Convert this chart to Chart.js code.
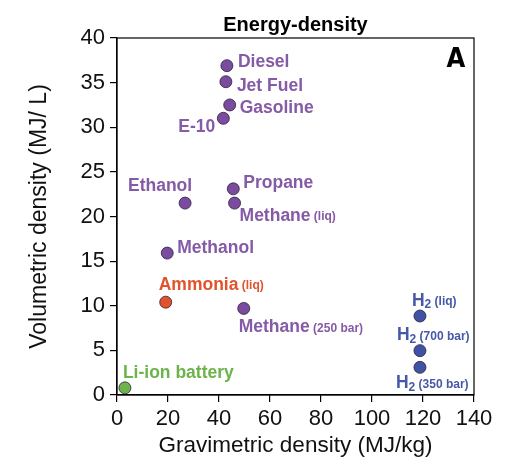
<!DOCTYPE html>
<html>
<head>
<meta charset="utf-8">
<script src="https://cdn.jsdelivr.net/npm/chart.js@4.4.1/dist/chart.umd.min.js"></script>
<style>
  html, body { margin: 0; padding: 0; background: #fff; }
  #wrap { width: 510px; height: 472px; }
</style>
</head>
<body>
<div id="wrap"><canvas id="chart" width="510" height="472"></canvas></div>
<script>
// fuels
const names = [
  "Diesel", "Jet Fuel", "Gasoline", "E-10", "Ethanol", "Propane",
  "Methane (liq)", "Methanol", "Ammonia (liq)", "Methane (250 bar)",
  "H2 (liq)", "H2 (700 bar)", "H2 (350 bar)", "Li-ion battery"
];
const gravimetric = [43.1, 42.7, 44.2, 41.7, 26.7, 45.6, 46.1, 19.7, 19.1, 49.7, 118.8, 118.8, 118.8, 3.1];
const volumetric = [36.9, 35.1, 32.5, 31.0, 21.5, 23.1, 21.5, 15.9, 10.4, 9.7, 8.85, 4.97, 3.1, 0.8];
const groups = [
  "carbon", "carbon", "carbon", "carbon", "carbon", "carbon",
  "carbon", "carbon", "ammonia", "carbon",
  "hydrogen", "hydrogen", "hydrogen", "battery"
];
const xTicks = [0, 20, 40, 60, 80, 100, 120, 140];
const yTicks = [0, 5, 10, 15, 20, 25, 30, 35, 40];

const fillColors = { carbon: "#7a4b9e", ammonia: "#e2532b", hydrogen: "#3f52a4", battery: "#6cb34b" };
const textColors = { carbon: "#855aa6", ammonia: "#e2532b", hydrogen: "#4658a6", battery: "#6cb34b" };

// where each label sits relative to its dot: [dx, dy, align]
const labelPlacement = [
  [11, -3, "left"], [11, 4, "left"], [10, 3, "left"], [-8, 9, "right"],
  [-25, -17, "center"], [10, -6, "left"], [5, 13, "left"], [10, -5, "left"],
  [-7, -17, "left"], [-5, 19, "left"], [-8, -15, "left"], [-23, -15, "left"],
  [-24, 16, "left"], [-2, -15, "left"]
];

const FONT = "'Liberation Sans', Arial, Helvetica, sans-serif";

function labelParts(text) {
  const parts = [];
  let main = text, paren = "";
  const m = text.match(/^(.*?)(\s\(.*\))$/);
  if (m) { main = m[1]; paren = m[2]; }
  if (main === "H2") {
    parts.push({ t: "H", size: 17.5, dy: 0 });
    parts.push({ t: "2", size: 12, dy: 4 });
  } else {
    parts.push({ t: main, size: 17.5, dy: 0 });
  }
  if (paren) parts.push({ t: paren, size: 12, dy: 1 });
  return parts;
}

function drawLabel(ctx, text, x, y, align, color) {
  const parts = labelParts(text);
  let total = 0;
  parts.forEach((p) => {
    ctx.font = "bold " + p.size + "px " + FONT;
    p.w = ctx.measureText(p.t).width;
    total += p.w;
  });
  let cx = x;
  if (align === "right") cx = x - total;
  if (align === "center") cx = x - total / 2;
  ctx.fillStyle = color;
  ctx.textAlign = "left";
  ctx.textBaseline = "middle";
  parts.forEach((p) => {
    ctx.font = "bold " + p.size + "px " + FONT;
    ctx.fillText(p.t, cx, y + p.dy);
    cx += p.w;
  });
}

const decorations = {
  id: "decorations",
  afterDatasetsDraw(chart) {
    const ctx = chart.ctx;
    const area = chart.chartArea;
    const meta = chart.getDatasetMeta(0);
    ctx.save();

    // frame
    ctx.strokeStyle = "#000";
    ctx.lineWidth = 1.2;
    ctx.strokeRect(area.left, area.top, area.right - area.left, area.bottom - area.top);

    // point labels
    meta.data.forEach((pt, i) => {
      const [dx, dy, align] = labelPlacement[i];
      drawLabel(ctx, names[i], pt.x + dx, pt.y + dy, align, textColors[groups[i]]);
    });

    // title
    ctx.fillStyle = "#000";
    ctx.textAlign = "center";
    ctx.textBaseline = "middle";
    ctx.font = "bold 20px " + FONT;
    ctx.fillText("Energy-density", (area.left + area.right) / 2, area.top - 13);

    // panel letter
    ctx.font = "bold 27px 'Liberation Sans Narrow', 'DejaVu Sans Condensed', sans-serif";
    ctx.fillText("A", area.right - 18, area.top + 22);
    ctx.restore();
  }
};

const points = gravimetric.map((g, i) => ({ x: g, y: volumetric[i] }));

new Chart(document.getElementById("chart"), {
  type: "scatter",
  data: {
    datasets: [{
      data: points,
      pointRadius: 6,
      pointHoverRadius: 6,
      pointBackgroundColor: groups.map((g) => fillColors[g]),
      pointBorderColor: "#2a2140",
      pointBorderWidth: 0.8
    }]
  },
  options: {
    responsive: false,
    animation: false,
    layout: { padding: { top: 38, right: 36, left: 0, bottom: 0 } },
    plugins: {
      legend: { display: false },
      tooltip: { enabled: false },
      title: { display: false }
    },
    scales: {
      x: {
        type: "linear",
        min: xTicks[0],
        max: xTicks[xTicks.length - 1],
        afterBuildTicks: (scale) => { scale.ticks = xTicks.map((v) => ({ value: v })); },
        afterFit: (scale) => { scale.height = 77; },
        grid: { display: true, drawOnChartArea: false, drawTicks: true, tickLength: 7, color: "#000", lineWidth: 1.2 },
        border: { display: true, color: "#000", width: 1.2 },
        ticks: { color: "#111", padding: 4, font: { family: FONT, size: 22 } },
        title: {
          display: true,
          text: "Gravimetric density (MJ/kg)",
          color: "#111",
          font: { family: FONT, size: 22.5 },
          padding: { top: 0, bottom: 13 }
        }
      },
      y: {
        type: "linear",
        min: yTicks[0],
        max: yTicks[yTicks.length - 1],
        afterBuildTicks: (scale) => { scale.ticks = yTicks.map((v) => ({ value: v })); },
        afterFit: (scale) => { scale.width = 117; },
        grid: { display: true, drawOnChartArea: false, drawTicks: true, tickLength: 7, color: "#000", lineWidth: 1.2 },
        border: { display: true, color: "#000", width: 1.2 },
        ticks: { color: "#111", padding: 5, font: { family: FONT, size: 22 } },
        title: {
          display: true,
          text: "Volumetric density (MJ/ L)",
          color: "#111",
          font: { family: FONT, size: 23 },
          padding: { top: 26, bottom: 0 }
        }
      }
    }
  },
  plugins: [decorations]
});
</script>
</body>
</html>
